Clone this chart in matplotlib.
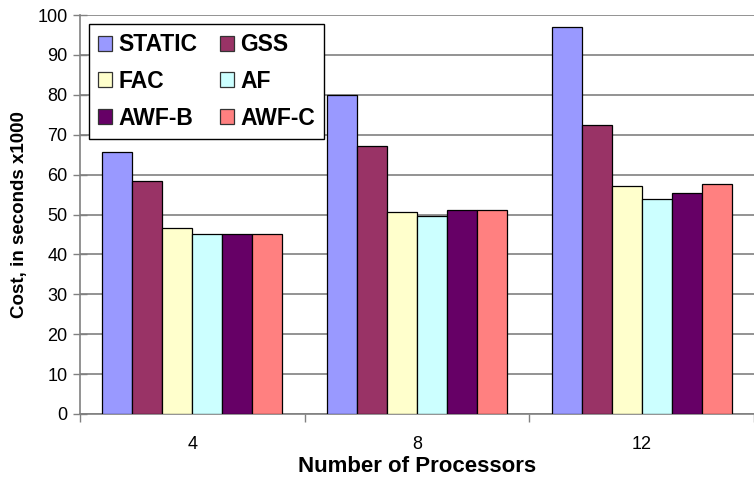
import matplotlib
matplotlib.use("Agg")
import matplotlib.pyplot as plt
import numpy as np
from matplotlib.patches import Patch

plt.rcParams['font.family'] = ['Liberation Sans', 'DejaVu Sans']

groups = ["4", "8", "12"]
series = ["STATIC", "GSS", "FAC", "AF", "AWF-B", "AWF-C"]
static = [65.6, 80.0, 96.9]
gss = [58.5, 67.2, 72.4]
fac = [46.7, 50.6, 57.1]
af = [45.2, 49.6, 53.8]
awf_b = [45.2, 51.1, 55.5]
awf_c = [45.2, 51.1, 57.6]
values = [static, gss, fac, af, awf_b, awf_c]
colors = ["#9999FF", "#993366", "#FFFFCC", "#CCFFFF", "#660066", "#FF8080"]
yticks = [0, 10, 20, 30, 40, 50, 60, 70, 80, 90, 100]

fig = plt.figure(figsize=(7.54, 4.84), dpi=100)
W, H = 754, 484
ax = fig.add_axes([80 / W, 1 - 414 / H, (754 - 80) / W, (414 - 15) / H])

n = len(series)
bw = 1 / 7.5
x = np.arange(len(groups))
handles = []
for i, (name, vals, c) in enumerate(zip(series, values, colors)):
    offs = (i - (n - 1) / 2) * bw
    ax.bar(x + offs, vals, width=bw, color=c, edgecolor="black", linewidth=0.9, zorder=3)
    handles.append(Patch(facecolor=c, edgecolor="#333333", linewidth=0.9, label=name))

ax.set_ylim(0, 100)
ax.set_xlim(-0.5, -0.5 + (754 - 80) / 227.3)
ax.set_yticks(yticks)
ax.set_yticklabels([str(t) for t in yticks], fontsize=13)
ax.yaxis.grid(True, color="#808080", linewidth=1.2, zorder=0)
ax.set_axisbelow(True)

ax.set_xticks(x)
ax.set_xticklabels(groups, fontsize=13)
ax.set_xticks([-0.5, 0.5, 1.5, 2.5], minor=True)
ax.tick_params(axis="x", which="major", length=0, pad=16)
ax.tick_params(axis="x", which="minor", length=6, direction="out", color="#808080", width=1)
ax.tick_params(axis="y", direction="inout", length=10, color="#808080", width=1, pad=4)

for s in ["top", "right"]:
    ax.spines[s].set_visible(False)
for s in ["left", "bottom"]:
    ax.spines[s].set_color("#808080")
    ax.spines[s].set_linewidth(1.2)

ax.set_xlabel("Number of Processors", fontsize=16, fontweight="bold", labelpad=2)
ax.set_ylabel("Cost, in seconds x1000", fontsize=13.5, fontweight="bold", labelpad=7)

order = [0, 2, 4, 1, 3, 5]
leg = ax.legend([handles[i] for i in order], [series[i] for i in order], ncol=2,
                loc="upper left", bbox_to_anchor=((89 - 80) / (754 - 80), (414 - 24) / (414 - 15)),
                fancybox=False, framealpha=1, edgecolor="black", prop={"weight": "bold", "size": 16.5},
                handlelength=0.62, handleheight=0.62, handletextpad=0.28, columnspacing=0.95,
                labelspacing=0.6, borderpad=0.4, borderaxespad=0)
leg.get_frame().set_linewidth(1.0)
leg.set_zorder(5)

fig.savefig("out.png", dpi=100)
